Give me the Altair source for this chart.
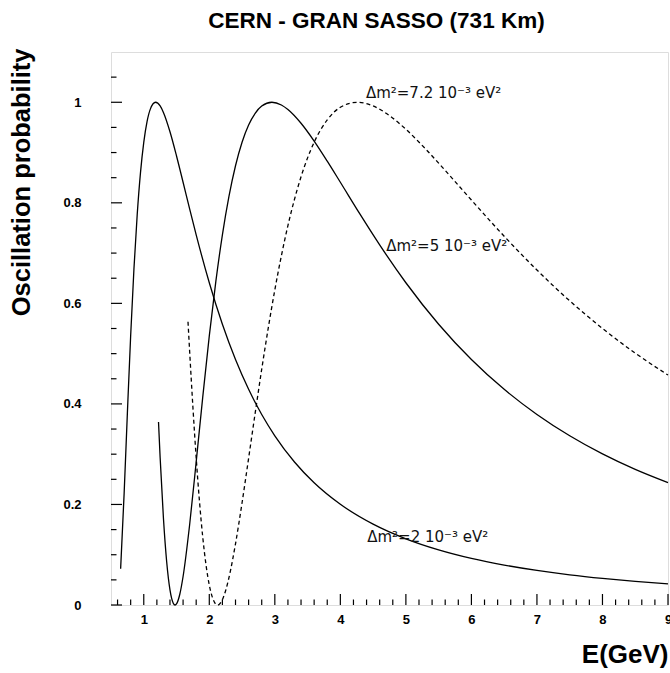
import altair as alt
import pandas as pd

# ---- data ----
E_DM2_2 = [0.647, 0.7, 0.75, 0.8, 0.85, 0.9, 0.95, 1.0, 1.05, 1.1, 1.18, 1.25, 1.3, 1.4, 1.5,
           1.6, 1.7, 1.8, 2.0, 2.2, 2.4, 2.6, 2.8, 3.0, 3.3, 3.6, 4.0, 4.5, 5.0, 5.5, 6.0,
           6.5, 7.0, 7.5, 8.0, 8.5, 9.0]
P_DM2_2 = [0.0721, 0.2208, 0.3818, 0.5354, 0.6685, 0.7767, 0.8601, 0.9203, 0.9615, 0.9864,
           1.0, 0.9927, 0.9798, 0.9414, 0.8932, 0.8409, 0.7879, 0.7363, 0.6410, 0.5584,
           0.4882, 0.4290, 0.3789, 0.3366, 0.2845, 0.2432, 0.2004, 0.1608, 0.1317, 0.1097,
           0.0927, 0.0794, 0.0687, 0.0600, 0.0529, 0.0470, 0.0420]

E_DM2_5 = [1.225, 1.25, 1.3, 1.35, 1.4, 1.45, 1.4776, 1.5, 1.55, 1.6, 1.7, 1.8, 1.9, 2.0,
           2.1, 2.2, 2.3, 2.4, 2.5, 2.6, 2.7, 2.8, 2.955, 3.1, 3.2, 3.4, 3.6, 3.8, 4.0, 4.3,
           4.6, 5.0, 5.5, 6.0, 6.5, 7.0, 7.5, 8.0, 8.5, 9.0]
P_DM2_5 = [0.3640, 0.2929, 0.1731, 0.0855, 0.0300, 0.0036, 0.0, 0.0022, 0.0214, 0.0567,
           0.1597, 0.2847, 0.4136, 0.5352, 0.6437, 0.7364, 0.8128, 0.8737, 0.9205, 0.9547,
           0.9781, 0.9924, 1.0, 0.9946, 0.9856, 0.9583, 0.9229, 0.8829, 0.8409, 0.7774,
           0.7163, 0.6410, 0.5585, 0.4883, 0.4290, 0.3790, 0.3366, 0.3005, 0.2697, 0.2433]

E_DM2_72 = [1.675, 1.7, 1.75, 1.8, 1.85, 1.9, 1.95, 2.0, 2.05, 2.1, 2.1276, 2.15, 2.2, 2.25,
            2.3, 2.4, 2.5, 2.6, 2.7, 2.8, 2.9, 3.0, 3.2, 3.4, 3.6, 3.8, 4.0, 4.255, 4.5,
            4.75, 5.0, 5.3, 5.6, 6.0, 6.5, 7.0, 7.5, 8.0, 8.5, 9.0]
P_DM2_72 = [0.5635, 0.5049, 0.3934, 0.2929, 0.2063, 0.1351, 0.0797, 0.0397, 0.0141, 0.0017,
            0.0, 0.0011, 0.0106, 0.0289, 0.0544, 0.1218, 0.2034, 0.2919, 0.3817, 0.4690,
            0.5512, 0.6267, 0.7548, 0.8518, 0.9205, 0.9650, 0.9900, 1.0, 0.9927, 0.9735,
            0.9463, 0.9072, 0.8644, 0.8055, 0.7335, 0.6663, 0.6050, 0.5501, 0.5010, 0.4574]

LABEL_TEXT = ["\u0394m\u00b2=7.2  10\u207b\u00b3  eV\u00b2",
              "\u0394m\u00b2=5  10\u207b\u00b3  eV\u00b2",
              "\u0394m\u00b2=2  10\u207b\u00b3  eV\u00b2"]
LABEL_E = [4.39, 4.70, 4.41]
LABEL_P = [1.008, 0.704, 0.125]

X_LABELS = [1, 2, 3, 4, 5, 6, 7, 8, 9]
X_MINOR = [0.6, 0.8, 1.2, 1.4, 1.6, 1.8, 2.2, 2.4, 2.6, 2.8, 3.2, 3.4, 3.6, 3.8,
           4.2, 4.4, 4.6, 4.8, 5.2, 5.4, 5.6, 5.8, 6.2, 6.4, 6.6, 6.8, 7.2, 7.4, 7.6, 7.8,
           8.2, 8.4, 8.6, 8.8]
Y_LABELS = [0, 0.2, 0.4, 0.6, 0.8, 1]
Y_MINOR = [0.05, 0.1, 0.15, 0.25, 0.3, 0.35, 0.45, 0.5, 0.55, 0.65, 0.7, 0.75,
           0.85, 0.9, 0.95, 1.05]

# ---- layout ----
W, H = 557, 553
FONT = "Liberation Sans"

xscale = alt.Scale(domain=[0.5, 9], nice=False, zero=False)
yscale = alt.Scale(domain=[0, 1.1], nice=False, zero=True)

xaxis = alt.Axis(values=X_LABELS, format="d", ticks=False, domain=False, grid=False,
                 labelFont=FONT, labelFontWeight="bold", labelFontSize=13,
                 labelColor="black", labelPadding=8, labelFlush=False,
                 title="E(GeV)", titleFont=FONT, titleFontWeight="bold", titleFontSize=26,
                 titleColor="black", titleX=557, titleY=57, titleAlign="right",
                 titleBaseline="alphabetic")
yaxis = alt.Axis(values=Y_LABELS, labelExpr="'' + datum.value", ticks=False, domain=False,
                 grid=False, labelFont=FONT, labelFontWeight="bold", labelFontSize=13,
                 labelColor="black", labelPadding=30, labelFlush=False,
                 title="Oscillation probability", titleFont=FONT, titleFontWeight="bold",
                 titleFontSize=25.5, titleColor="black", titleX=-82, titleY=-4,
                 titleAlign="right", titleAngle=270, titleBaseline="alphabetic")

def X(field="E"):
    return alt.X(f"{field}:Q", scale=xscale, axis=xaxis)

def Y(field="P"):
    return alt.Y(f"{field}:Q", scale=yscale, axis=yaxis)

d2 = pd.DataFrame({"E": E_DM2_2, "P": P_DM2_2})
d5 = pd.DataFrame({"E": E_DM2_5, "P": P_DM2_5})
d72 = pd.DataFrame({"E": E_DM2_72, "P": P_DM2_72})

line2 = alt.Chart(d2).mark_line(color="black", strokeWidth=1.3, interpolate="monotone").encode(x=X(), y=Y())
line5 = alt.Chart(d5).mark_line(color="black", strokeWidth=1.3, interpolate="monotone").encode(x=X(), y=Y())
line72 = alt.Chart(d72).mark_line(color="black", strokeWidth=1.3, strokeDash=[4, 3],
                                  interpolate="monotone").encode(x=X(), y=Y())

labels = alt.Chart(pd.DataFrame({"E": LABEL_E, "P": LABEL_P, "t": LABEL_TEXT})).mark_text(
    align="left", baseline="alphabetic", font="DejaVu Sans", fontSize=15, color="#111"
).encode(x=X(), y=Y(), text="t:N")

xmaj = alt.Chart(pd.DataFrame({"E": X_LABELS})).mark_rule(color="black", strokeWidth=1.2).encode(
    x=X(), y=alt.value(H), y2=alt.value(H - 11))
xmin = alt.Chart(pd.DataFrame({"E": X_MINOR})).mark_rule(color="black", strokeWidth=1.2).encode(
    x=X(), y=alt.value(H), y2=alt.value(H - 5.5))
ymaj = alt.Chart(pd.DataFrame({"P": Y_LABELS})).mark_rule(color="black", strokeWidth=1.2).encode(
    y=Y(), x=alt.value(0), x2=alt.value(11))
ymin = alt.Chart(pd.DataFrame({"P": Y_MINOR})).mark_rule(color="black", strokeWidth=1.2).encode(
    y=Y(), x=alt.value(0), x2=alt.value(5.5))

chart = alt.layer(xmaj, xmin, ymaj, ymin, line2, line5, line72, labels).properties(
    width=W, height=H,
    padding={"left": 111, "top": 52, "right": 2, "bottom": 68},
    autosize=alt.AutoSizeParams(type="none"),
    title=alt.TitleParams("CERN - GRAN SASSO (731 Km)", font=FONT, fontWeight="bold",
                          fontSize=22.5, color="black", anchor="middle", dx=-13, dy=23,
                          baseline="alphabetic", offset=21),
).configure_view(stroke="black", strokeWidth=1.5).configure(background="white")

chart.save("out.html", embed_options={"renderer": "svg", "actions": False})
